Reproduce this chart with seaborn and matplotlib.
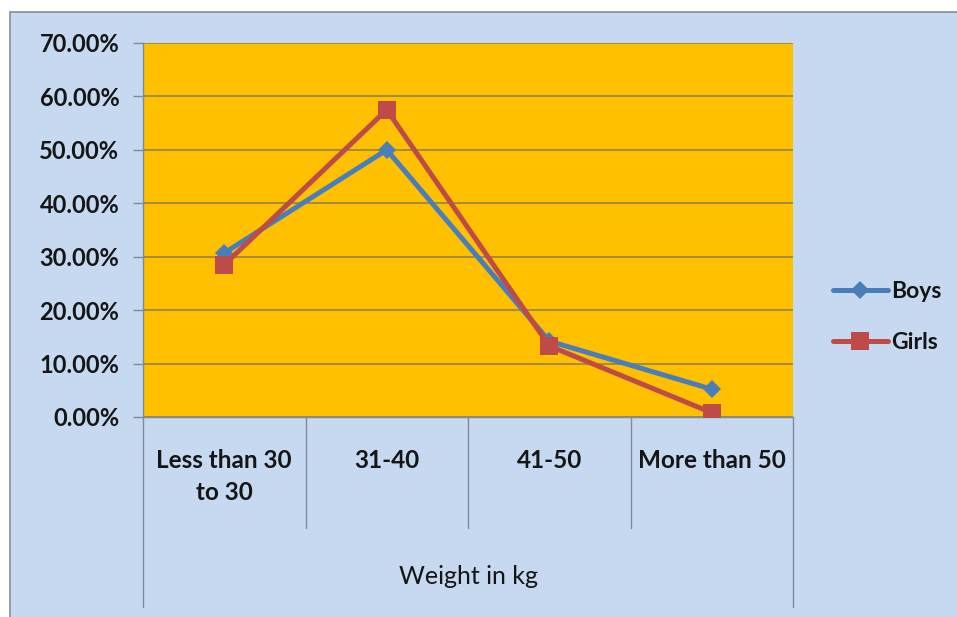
import matplotlib
matplotlib.use("Agg")
import matplotlib.pyplot as plt
import matplotlib.transforms as mtransforms
from matplotlib.patches import Rectangle
from matplotlib.lines import Line2D
import seaborn as sns
import pandas as pd

# Share of children in each weight group (percent)
categories = ["Less than 30\nto 30", "31-40", "41-50", "More than 50"]
boys = [30.7, 50.0, 14.2, 5.2]
girls = [28.5, 57.5, 13.3, 0.8]
y_ticks = [0, 10, 20, 30, 40, 50, 60, 70]
group_label = "Weight in kg"

sns.set_theme(style="white")
plt.rcParams["font.family"] = ["Lato", "DejaVu Sans"]

BG = "#c6d9f1"
PLOT_BG = "#ffc000"
BOYS_C = "#4a7ebb"
GIRLS_C = "#be4b48"
GRID_C = "#8a7d55"
LINE_C = "#7f8a99"
TEXT_C = "#151515"

W, H = 957, 617
fig = plt.figure(figsize=(W / 100, H / 100), dpi=100, facecolor="white")

# chart area with its border
fig.patches.append(Rectangle((10 / W, -0.05), 1.0, 1.05 - 12 / H, transform=fig.transFigure,
                             facecolor=BG, edgecolor="#8c8c8c", linewidth=1.2, zorder=-5))

ax = fig.add_axes([143 / W, 1 - 417 / H, 650 / W, 374 / H], zorder=2)
ax.set_facecolor(PLOT_BG)

df = pd.DataFrame({
    "pos": list(range(len(categories))) * 2,
    "value": boys + girls,
    "series": ["Boys"] * len(boys) + ["Girls"] * len(girls),
})

sns.lineplot(data=df[df.series == "Girls"], x="pos", y="value", ax=ax, color=GIRLS_C,
             linewidth=3.6, marker="s", markersize=13, markeredgewidth=0, legend=False,
             zorder=3)
sns.lineplot(data=df[df.series == "Boys"], x="pos", y="value", ax=ax, color=BOYS_C,
             linewidth=3.6, marker="D", markersize=9, markeredgewidth=0, legend=False,
             zorder=2)

ax.set_xlim(-0.5, len(categories) - 0.5)
ax.set_ylim(0, 70)
ax.set_yticks(y_ticks)
ax.set_yticklabels([f"{v:.2f}%" for v in y_ticks], fontsize=17, fontweight="bold",
                   color=TEXT_C)
ax.yaxis.grid(True, color=GRID_C, linewidth=1.1)
ax.set_axisbelow(True)
ax.tick_params(axis="y", which="major", length=7, width=1, color=LINE_C, pad=10,
               left=True)

ax.set_xticks(range(len(categories)))
ax.set_xticklabels(categories, fontsize=17.5, fontweight="bold", color=TEXT_C,
                   linespacing=1.5)
ax.tick_params(axis="x", length=0, pad=23)
ax.set_xlabel("")
ax.set_ylabel("")

for side in ["top", "right"]:
    ax.spines[side].set_visible(False)
ax.spines["left"].set_color(LINE_C)
ax.spines["bottom"].set_color(LINE_C)
ax.spines["left"].set_linewidth(1)
ax.spines["bottom"].set_linewidth(1)

# category separators of the two-level axis
trans = mtransforms.blended_transform_factory(ax.transData, ax.transAxes)
n = len(categories)
for i in range(n + 1):
    x = i - 0.5
    bottom = -(607 - 417) / 374 if i in (0, n) else -(528 - 417) / 374
    ax.add_line(Line2D([x, x], [0, bottom], transform=trans, color=LINE_C,
                       linewidth=1, clip_on=False))

ax.text((n - 1) / 2, -(577 - 417) / 374, group_label, transform=trans, ha="center",
        va="center", fontsize=18, color=TEXT_C)

handles = [
    Line2D([], [], color=BOYS_C, linewidth=3.6, marker="D", markersize=9,
           markeredgewidth=0),
    Line2D([], [], color=GIRLS_C, linewidth=3.6, marker="s", markersize=13,
           markeredgewidth=0),
]
leg = fig.legend(handles, ["Boys", "Girls"], loc="center left",
                 bbox_to_anchor=(812 / W, 1 - 317 / H), frameon=False,
                 prop={"family": "Lato", "weight": "bold", "size": 16.5},
                 handlelength=2.4, handletextpad=0.15, labelspacing=1.3)
for t in leg.get_texts():
    t.set_color(TEXT_C)

fig.savefig("out.png", dpi=100, facecolor=fig.get_facecolor())
